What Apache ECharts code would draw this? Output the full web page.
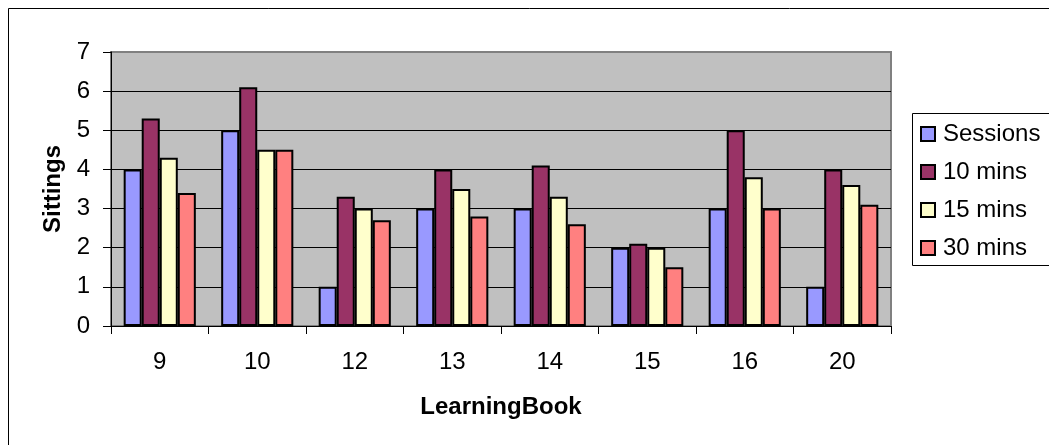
<!DOCTYPE html>
<html>
<head>
<meta charset="utf-8">
<script src="https://cdn.jsdelivr.net/npm/echarts@6/dist/echarts.min.js"></script>
<style>
  html, body { margin: 0; padding: 0; background: #fff; }
  #chart { width: 1049px; height: 445px; }
</style>
</head>
<body>
<div id="chart"></div>
<script>
// LearningBook sittings by book
const books = ['9', '10', '12', '13', '14', '15', '16', '20'];
const sessions = [4, 5, 1, 3, 3, 2, 3, 1];
const mins10 = [5.3, 6.1, 3.3, 4, 4.1, 2.1, 5, 4];
const mins15 = [4.3, 4.5, 3, 3.5, 3.3, 2, 3.8, 3.6];
const mins30 = [3.4, 4.5, 2.7, 2.8, 2.6, 1.5, 3, 3.1];
const seriesNames = ['Sessions', '10 mins', '15 mins', '30 mins'];
const seriesColors = ['#9999FF', '#993366', '#FFFFCC', '#FF8080'];

const font = '"Liberation Sans", Arial, sans-serif';
const chart = echarts.init(document.getElementById('chart'), null, { renderer: 'canvas' });

const values = [sessions, mins10, mins15, mins30];

chart.setOption({
  animation: false,
  textStyle: { fontFamily: font },
  graphic: [
    {
      type: 'rect',
      shape: { x: 8.5, y: 8.5, width: 1100, height: 500 },
      style: { fill: 'none', stroke: '#000', lineWidth: 1 },
      silent: true
    },
    {
      type: 'rect',
      shape: { x: 912.5, y: 113.5, width: 200, height: 152 },
      style: { fill: '#fff', stroke: '#000', lineWidth: 1 },
      silent: true,
      z: 0
    }
  ],
  legend: {
    orient: 'vertical',
    left: 915,
    top: 117,
    itemWidth: 14,
    itemHeight: 14,
    itemGap: 14,
    icon: 'rect',
    textStyle: { fontSize: 24, lineHeight: 24, color: '#000', fontFamily: font, padding: [0, 0, 0, 3] },
    z: 5
  },
  grid: {
    left: 111, top: 52, right: 158, bottom: 119,
    show: true,
    backgroundColor: '#C0C0C0',
    borderColor: '#808080',
    borderWidth: 2
  },
  xAxis: {
    type: 'category',
    data: books,
    name: 'LearningBook',
    nameLocation: 'middle',
    nameGap: 69,
    nameTextStyle: { fontSize: 24, fontWeight: 'bold', color: '#000', fontFamily: font },
    axisLine: { lineStyle: { color: '#000', width: 1 } },
    axisTick: { show: true, length: 8, lineStyle: { color: '#000' } },
    axisLabel: { fontSize: 24, color: '#000', margin: 24, fontFamily: font }
  },
  yAxis: {
    type: 'value',
    min: 0,
    max: 7,
    interval: 1,
    name: 'Sittings',
    nameLocation: 'middle',
    nameGap: 44,
    nameTextStyle: { fontSize: 24, fontWeight: 'bold', color: '#000', fontFamily: font },
    axisLine: { show: true, lineStyle: { color: '#000', width: 1 } },
    axisTick: { show: true, length: 8, lineStyle: { color: '#000' } },
    axisLabel: { fontSize: 24, color: '#000', margin: 21, fontFamily: font },
    splitLine: { show: true, showMaxLine: false, lineStyle: { color: '#000', width: 1 } }
  },
  series: seriesNames.map((name, i) => ({
    name: name,
    type: 'bar',
    data: values[i],
    barGap: '0%',
    barCategoryGap: '26%',
    itemStyle: { color: seriesColors[i], borderColor: '#000', borderWidth: 2 }
  }))
});
</script>
</body>
</html>
